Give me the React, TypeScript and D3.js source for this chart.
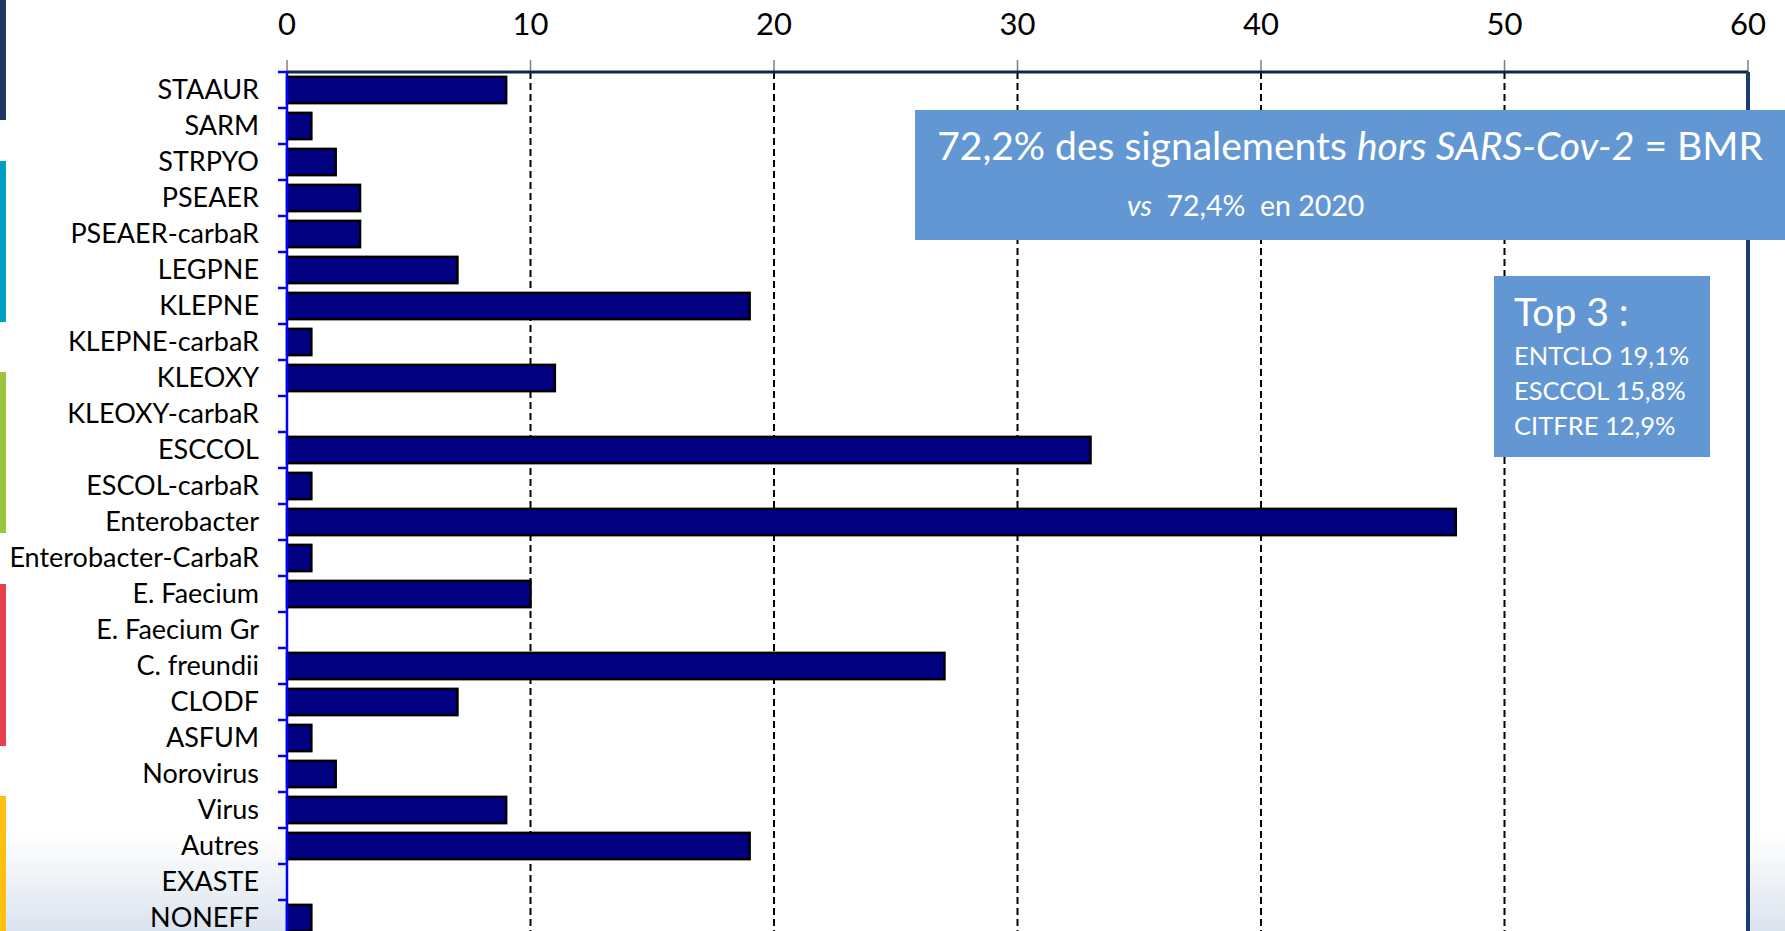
import React, { useEffect, useRef } from 'react';
import * as d3 from 'd3';

// signalements par micro-organisme
const categories = [
    'STAAUR', 'SARM', 'STRPYO', 'PSEAER', 'PSEAER-carbaR', 'LEGPNE', 'KLEPNE',
    'KLEPNE-carbaR', 'KLEOXY', 'KLEOXY-carbaR', 'ESCCOL', 'ESCOL-carbaR',
    'Enterobacter', 'Enterobacter-CarbaR', 'E. Faecium', 'E. Faecium Gr',
    'C. freundii', 'CLODF', 'ASFUM', 'Norovirus', 'Virus', 'Autres', 'EXASTE', 'NONEFF',
];
const counts = [9, 1, 2, 3, 3, 7, 19, 1, 11, 0, 33, 1, 48, 1, 10, 0, 27, 7, 1, 2, 9, 19, 0, 1];
const xTicks = [0, 10, 20, 30, 40, 50, 60];

const bannerLine1 = ['72,2% des signalements ', 'hors SARS-Cov-2', ' = BMR'];
const bannerLine2 = ['vs', '  72,4%  en 2020'];
const topTitle = 'Top 3 :';
const topLines = ['ENTCLO 19,1%', 'ESCCOL 15,8%', 'CITFRE 12,9%'];

const W = 1785;
const H = 931;
const FONT = 'Lato, "Open Sans", sans-serif';

const App: React.FC = () => {
    const svgRef = useRef<SVGSVGElement>(null);

    useEffect(() => {
        if (!svgRef.current) return;
        document.body.style.margin = '0';

        const svg = d3.select(svgRef.current);
        svg.selectAll('*').remove();

        const left = 287;
        const right = 1748;
        const top = 72;
        const step = 36;

        const x = d3.scaleLinear().domain([0, 60]).range([left, right]);
        const y = d3.scaleBand<string>()
            .domain(categories)
            .range([top, top + step * categories.length])
            .paddingInner(0.27)
            .paddingOuter(0.135);

        const defs = svg.append('defs');
        const bg = defs.append('linearGradient')
            .attr('id', 'bg-grad')
            .attr('x1', 0).attr('y1', 0).attr('x2', 0).attr('y2', 1);
        bg.append('stop').attr('offset', '0%').attr('stop-color', '#ffffff');
        bg.append('stop').attr('offset', '100%').attr('stop-color', '#dbe3ee');

        // page background
        svg.append('rect').attr('width', W).attr('height', H).attr('fill', '#ffffff');
        svg.append('rect')
            .attr('x', 0).attr('y', 835)
            .attr('width', W).attr('height', H - 835)
            .attr('fill', 'url(#bg-grad)');

        // coloured strips on the left edge of the slide
        const strips = [
            { color: '#1f3864', y0: 0, y1: 120 },
            { color: '#00a0c4', y0: 161, y1: 322 },
            { color: '#9dc43f', y0: 372, y1: 533 },
            { color: '#e63f4e', y0: 584, y1: 746 },
            { color: '#ffc012', y0: 796, y1: H },
        ];
        svg.append('g').selectAll('rect')
            .data(strips)
            .join('rect')
            .attr('x', 0)
            .attr('y', d => d.y0)
            .attr('width', 6)
            .attr('height', d => d.y1 - d.y0)
            .attr('fill', d => d.color);

        // plot area
        svg.append('rect')
            .attr('x', left).attr('y', top)
            .attr('width', right - left).attr('height', H - top)
            .attr('fill', '#ffffff');

        // gridlines
        svg.append('g').selectAll('line')
            .data(xTicks.slice(1, -1))
            .join('line')
            .attr('x1', d => x(d)).attr('x2', d => x(d))
            .attr('y1', top).attr('y2', H)
            .attr('stroke', '#000')
            .attr('stroke-width', 2)
            .attr('stroke-dasharray', '7,4');

        // top axis
        const axisTop = svg.append('g');
        axisTop.selectAll('line.tick')
            .data(xTicks)
            .join('line')
            .attr('class', 'tick')
            .attr('x1', d => x(d)).attr('x2', d => x(d))
            .attr('y1', top - 12).attr('y2', top)
            .attr('stroke', '#7f7f7f')
            .attr('stroke-width', 1.5);
        axisTop.selectAll('text')
            .data(xTicks)
            .join('text')
            .attr('x', d => x(d))
            .attr('y', 35)
            .attr('text-anchor', 'middle')
            .attr('font-family', FONT)
            .attr('font-size', 31)
            .attr('fill', '#000')
            .text(d => d);
        svg.append('line')
            .attr('x1', left).attr('x2', right)
            .attr('y1', top).attr('y2', top)
            .attr('stroke', '#0d2848')
            .attr('stroke-width', 3);
        svg.append('line')
            .attr('x1', right).attr('x2', right)
            .attr('y1', top).attr('y2', H)
            .attr('stroke', '#1b3d6e')
            .attr('stroke-width', 4);

        // bars
        svg.append('g').selectAll('rect')
            .data(categories.map((c, i) => ({ c, v: counts[i] })).filter(d => d.v > 0))
            .join('rect')
            .attr('x', x(0))
            .attr('y', d => y(d.c)!)
            .attr('width', d => x(d.v) - x(0))
            .attr('height', y.bandwidth())
            .attr('fill', '#000080')
            .attr('stroke', '#000')
            .attr('stroke-width', 2.5);

        // left category axis
        const axisLeft = svg.append('g');
        axisLeft.append('line')
            .attr('x1', left).attr('x2', left)
            .attr('y1', top).attr('y2', H)
            .attr('stroke', '#0000ff')
            .attr('stroke-width', 2.5);
        axisLeft.selectAll('line.tick')
            .data(d3.range(categories.length + 1))
            .join('line')
            .attr('class', 'tick')
            .attr('x1', left - 9).attr('x2', left)
            .attr('y1', i => top + i * step).attr('y2', i => top + i * step)
            .attr('stroke', '#0000ff')
            .attr('stroke-width', 2.5);
        axisLeft.selectAll('text')
            .data(categories)
            .join('text')
            .attr('x', 259)
            .attr('y', d => y(d)! + y.bandwidth() / 2)
            .attr('dy', '0.35em')
            .attr('text-anchor', 'end')
            .attr('font-family', FONT)
            .attr('font-size', 27)
            .attr('fill', '#000')
            .text(d => d);

        // headline banner
        const banner = svg.append('g');
        banner.append('rect')
            .attr('x', 915).attr('y', 110)
            .attr('width', W - 915).attr('height', 130)
            .attr('fill', '#6397d4');
        const l1 = banner.append('text')
            .attr('x', 1350).attr('y', 160)
            .attr('text-anchor', 'middle')
            .attr('font-family', FONT)
            .attr('font-size', 39)
            .attr('fill', '#fff');
        bannerLine1.forEach((t, i) => {
            l1.append('tspan')
                .attr('font-style', i === 1 ? 'italic' : 'normal')
                .text(t);
        });
        const l2 = banner.append('text')
            .attr('x', 1127).attr('y', 216)
            .attr('font-family', FONT)
            .attr('font-size', 28.5)
            .attr('fill', '#fff')
            .attr('xml:space', 'preserve')
            .style('white-space', 'pre');
        bannerLine2.forEach((t, i) => {
            l2.append('tspan')
                .attr('font-style', i === 0 ? 'italic' : 'normal')
                .text(t);
        });

        // top 3 box
        const box = svg.append('g');
        box.append('rect')
            .attr('x', 1494).attr('y', 276)
            .attr('width', 216).attr('height', 181)
            .attr('fill', '#6397d4');
        box.append('text')
            .attr('x', 1514).attr('y', 326)
            .attr('font-family', FONT)
            .attr('font-size', 39)
            .attr('fill', '#fff')
            .text(topTitle);
        box.selectAll('text.line')
            .data(topLines)
            .join('text')
            .attr('class', 'line')
            .attr('x', 1514)
            .attr('y', (_, i) => 365 + i * 35)
            .attr('font-family', FONT)
            .attr('font-size', 25.5)
            .attr('fill', '#fff')
            .text(d => d);
    }, []);

    return (
        <svg
            ref={svgRef}
            width={W}
            height={H}
            viewBox={`0 0 ${W} ${H}`}
            style={{ position: 'absolute', left: 0, top: 0, display: 'block' }}
        />
    );
};

export default App;
